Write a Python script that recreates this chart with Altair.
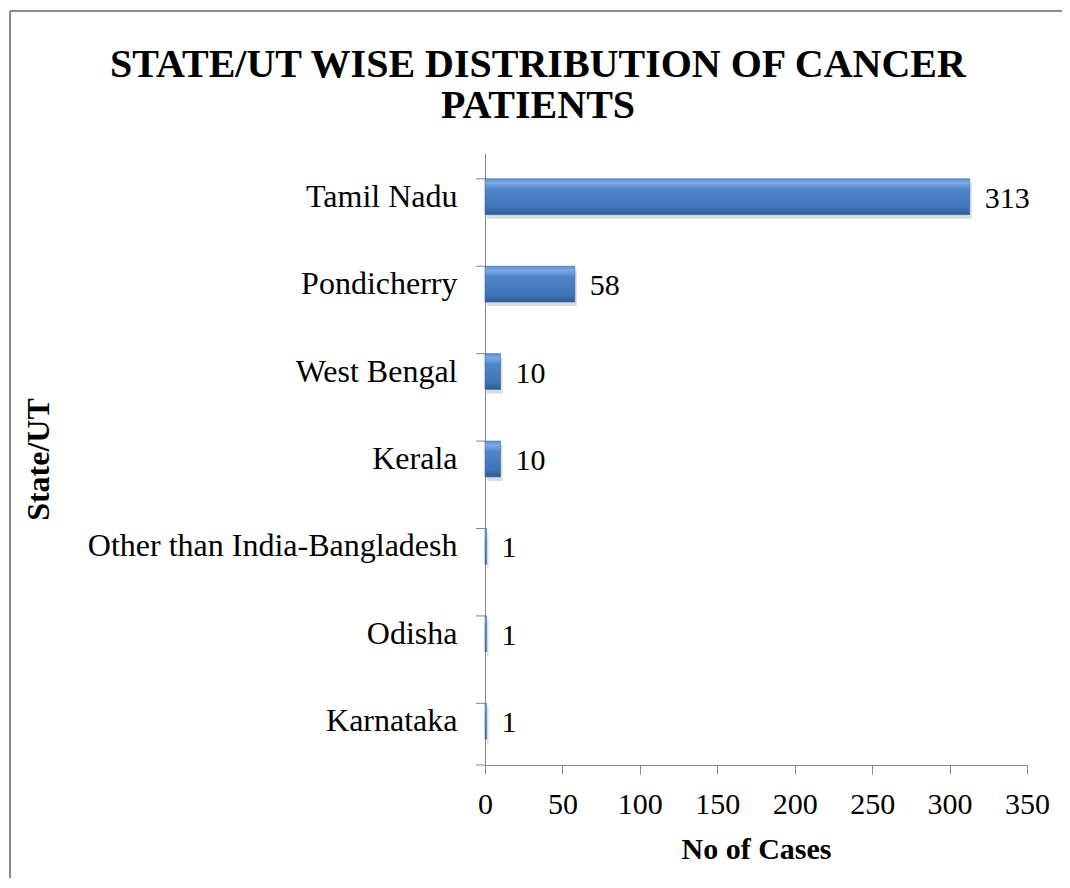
import altair as alt
import pandas as pd

states = ["Tamil Nadu", "Pondicherry", "West Bengal", "Kerala",
          "Other than India-Bangladesh", "Odisha", "Karnataka"]
cases = [313, 58, 10, 10, 1, 1, 1]
x_ticks = [0, 50, 100, 150, 200, 250, 300, 350]

df = pd.DataFrame({"state": states, "cases": cases})

FONT = "Liberation Serif"
W, H = 542, 612
AX = "#868686"

ysc = alt.Scale(domain=states, paddingInner=0.59, paddingOuter=0.295)
xsc = alt.Scale(domain=[0, 350], nice=False)

grad = alt.Gradient(
    gradient="linear", x1=0, x2=0, y1=0, y2=1,
    stops=[
        alt.GradientStop(offset=0, color="#5c8fd3"),
        alt.GradientStop(offset=0.12, color="#7eaae4"),
        alt.GradientStop(offset=0.3, color="#4f84c8"),
        alt.GradientStop(offset=0.8, color="#3f74b9"),
        alt.GradientStop(offset=1, color="#2f5a93"),
    ],
)

x_axis = alt.Axis(values=x_ticks, grid=False, domainColor=AX, tickColor=AX,
                  tickSize=9, labelFont=FONT, labelFontSize=30, labelColor="black",
                  labelPadding=15, labelFlush=False, labelOverlap=False,
                  titleFont=FONT, titleFontSize=30,
                  titleFontWeight="bold", titleColor="black",
                  titleY=84, titleBaseline="middle")
y_axis = alt.Axis(ticks=False, domainColor=AX, labelFont=FONT, labelFontSize=32,
                  labelColor="black", labelPadding=28, labelLimit=500,
                  titleFont=FONT, titleFontSize=32, titleFontWeight="bold",
                  titleColor="black", titleX=-447, titleY=306,
                  titleBaseline="middle")

X = alt.X("cases:Q", scale=xsc, title="No of Cases", axis=x_axis)
Y = alt.Y("state:N", scale=ysc, sort=states, title="State/UT", axis=y_axis)

base = alt.Chart(df)

shadow = base.mark_bar(color="#9a9a9a", opacity=0.35, yOffset=4, xOffset=2).encode(
    x=X, y=Y,
)

bars = base.mark_bar(color=grad, stroke="#3a6aa8", strokeWidth=0.6).encode(
    x=X, y=Y,
)

labels = base.mark_text(align="left", baseline="middle", dx=15, dy=2, font=FONT,
                        fontSize=30, color="black").encode(
    x=X, y=Y,
    text="cases:Q",
)

yticks = base.mark_rule(color=AX).encode(
    x=alt.value(-9), x2=alt.value(0),
    y=alt.Y("state:N", scale=ysc, sort=states, bandPosition=0,
            title="State/UT", axis=y_axis),
)
ytick_last = alt.Chart(pd.DataFrame({"a": [0]})).mark_rule(color=AX).encode(
    x=alt.value(-9), x2=alt.value(0), y=alt.value(H),
)

frame = pd.DataFrame({"a": [0]})
top_line = alt.Chart(frame).mark_rule(color="#8c8c8c", strokeWidth=2).encode(
    x=alt.value(-475), x2=alt.value(580), y=alt.value(-142),
)
left_line = alt.Chart(frame).mark_rule(color="#8c8c8c", strokeWidth=2).encode(
    x=alt.value(-475), y=alt.value(-142), y2=alt.value(730),
)

chart = alt.layer(shadow, bars, labels, yticks, ytick_last, top_line, left_line).properties(
    width=W, height=H,
    background="white",
    autosize=alt.AutoSizeParams(type="none"),
    padding={"left": 477, "top": 145, "right": 35, "bottom": 113},
    title=alt.TitleParams(
        text=["STATE/UT WISE DISTRIBUTION OF CANCER", "PATIENTS"],
        font=FONT, fontSize=40, fontWeight="bold", color="black",
        anchor="middle", dx=-218, dy=116, lineHeight=41, offset=0,
    ),
).configure_view(stroke=None)

chart.save("out.html", embed_options={"renderer": "svg", "actions": False})
